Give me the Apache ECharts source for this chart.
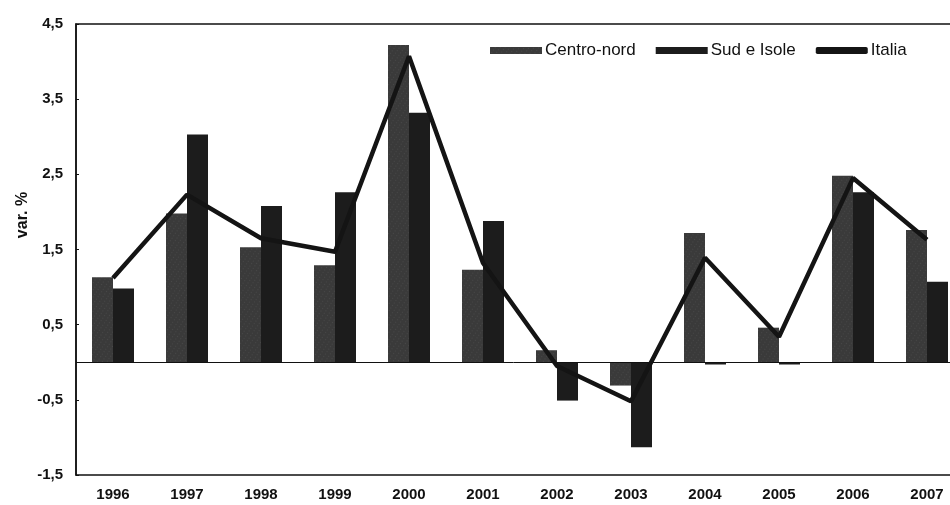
<!DOCTYPE html>
<html>
<head>
<meta charset="utf-8">
<script src="https://cdn.jsdelivr.net/npm/echarts@6/dist/echarts.min.js"></script>
<style>html,body{margin:0;padding:0;background:#fff}#c{width:950px;height:505px}</style>
</head>
<body>
<div id="c"></div>
<script>
const years = ['1996','1997','1998','1999','2000','2001','2002','2003','2004','2005','2006','2007'];
const centroNord = [1.13, 1.98, 1.53, 1.29, 4.22, 1.23, 0.16, -0.31, 1.72, 0.46, 2.48, 1.76];
const sudIsole = [0.98, 3.03, 2.08, 2.26, 3.32, 1.88, -0.51, -1.13, -0.03, -0.03, 2.26, 1.07];
const italia = [1.12, 2.23, 1.65, 1.47, 4.07, 1.32, -0.05, -0.52, 1.39, 0.34, 2.45, 1.63];
const yTicks = [-1.5, -0.5, 0.5, 1.5, 2.5, 3.5, 4.5];

const chart = echarts.init(document.getElementById('c'));
const font = 'Liberation Sans, Arial, sans-serif';
chart.setOption({
  animation: false,
  backgroundColor: '#ffffff',
  grid: {left: 76, width: 888, top: 24, bottom: 30, show: true, borderColor: '#111', borderWidth: 1.5,
    containLabel: false, outerBoundsMode: 'none'},
  legend: {
    left: 485, top: 37, itemWidth: 52, itemHeight: 7, itemGap: 20,
    textStyle: {fontFamily: font, fontSize: 17, color: '#111', padding: [0, 0, 0, -2]},
    data: [
      {name: 'Centro-nord', icon: 'rect'},
      {name: 'Sud e Isole', icon: 'rect'},
      {name: 'Italia', icon: 'roundRect'}
    ]
  },
  graphic: [{
    type: 'text', x: 23, y: 215, rotation: Math.PI / 2,
    style: {text: 'var. %', font: 'bold 16px ' + font, fill: '#111', textAlign: 'center', textVerticalAlign: 'middle'}
  }],
  xAxis: {
    type: 'category', data: years,
    axisLine: {show: false}, axisTick: {show: false},
    axisLabel: {margin: 12, fontFamily: font, fontSize: 15, fontWeight: 'bold', color: '#111'}
  },
  yAxis: {
    type: 'value', min: -1.5, max: 4.5, interval: 0.5,
    splitLine: {show: false},
    axisLine: {show: true, onZero: false, lineStyle: {color: '#111', width: 1.5}},
    axisTick: {show: true, inside: true, length: 3, customValues: yTicks, lineStyle: {color: '#111'}},
    axisLabel: {customValues: yTicks, margin: 13, fontFamily: font, fontSize: 15, fontWeight: 'bold', color: '#111',
      formatter: v => v.toFixed(1).replace('.', ',')}
  },
  series: [
    {
      name: 'Centro-nord', type: 'bar', data: centroNord, barWidth: 21, barGap: '0%',
      itemStyle: {color: '#3a3a3a', decal: {symbol: 'rect', symbolSize: 0.5, color: 'rgba(255,255,255,0.28)', dashArrayX: [1, 3], dashArrayY: [1, 2], rotation: 0.6}},
      markLine: {silent: true, symbol: 'none', label: {show: false}, lineStyle: {color: '#111', width: 1, type: 'solid'}, data: [{yAxis: 0}]}
    },
    {
      name: 'Sud e Isole', type: 'bar', data: sudIsole, barWidth: 21,
      itemStyle: {color: '#1c1c1c'}
    },
    {
      name: 'Italia', type: 'line', data: italia, symbol: 'none', z: 5,
      lineStyle: {color: '#141414', width: 4.5}, itemStyle: {color: '#141414'}
    }
  ]
});
</script>
</body>
</html>
